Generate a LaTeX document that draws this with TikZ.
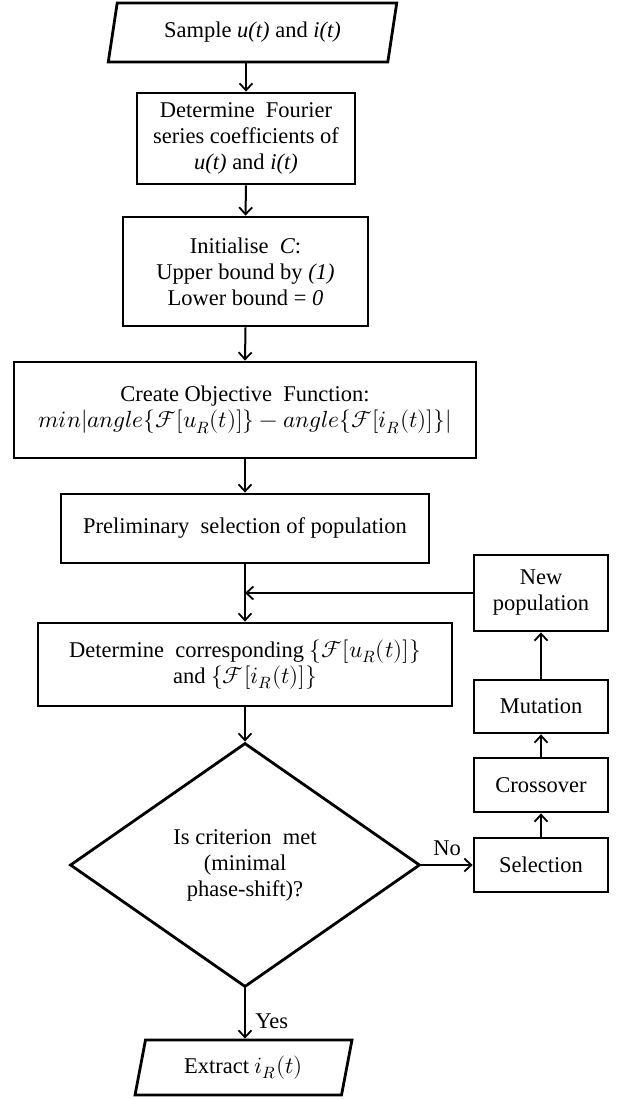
\documentclass[tikz,border=0pt]{standalone}
\usepackage{fontspec}
\usepackage{unicode-math}
\setmainfont{Liberation Serif}
\setmathfont{Latin Modern Math}[Scale=1.04]
\usetikzlibrary{arrows.meta,shapes.geometric}
\begin{document}
\begin{tikzpicture}[x=1pt,y=-1pt,
  font=\fontsize{22.5}{26}\selectfont,
  box/.style={draw, line width=2.8pt, align=center, inner sep=0pt},
  para/.style={draw, line width=2.8pt, trapezium, trapezium left angle=74,
    trapezium right angle=106, trapezium stretches=true, align=center, inner sep=0pt},
  dec/.style={draw, line width=2.8pt, diamond, align=center, inner sep=0pt},
  flow/.style={line width=2pt, -{Straight Barb[length=7pt,width=13pt,line width=1.8pt]}},
  thinflow/.style={line width=1.3pt, -{Straight Barb[length=7pt,width=13pt,line width=1.8pt]}}]
\useasboundingbox (0,0) rectangle (620,1099);

\node[para, minimum width=289pt, minimum height=59pt] (n1) at (252.5,32.5)
  {Sample \textit{u(t)} and \textit{i(t)}};
\node[box, minimum width=218pt, minimum height=91pt] (n2) at (246,138.5)
  {Determine\ \ Fourier\\series coefficients of\\\textit{u(t)} and \textit{i(t)}};
\node[box, minimum width=245pt, minimum height=109pt] (n3) at (245.5,271.5)
  {Initialise\ \ \textit{C}:\\Upper bound by \textit{(1)}\\Lower bound = \textit{0}};
\node[box, minimum width=462pt, minimum height=96pt] (n4) at (245,410)
  {Create Objective\ \ Function:\\
   $min|angle\{\mathcal{F}[u_R(t)]\}-angle\{\mathcal{F}[i_R(t)]\}|$};
\node[box, minimum width=368pt, minimum height=69pt] (n5) at (245,528.5)
  {Preliminary\ \ selection of population};
\node[box, minimum width=414pt, minimum height=83pt] (n6) at (245,664.5)
  {Determine\ \ corresponding $\{\mathcal{F}[u_R(t)]\}$\\and $\{\mathcal{F}[i_R(t)]\}$};
\node[dec, minimum width=350pt, minimum height=244pt] (dia) at (245,865)
  {Is criterion\ \ met\\(minimal\\phase-shift)?};
\node[para, trapezium left angle=75, trapezium right angle=105,
  minimum width=217pt, minimum height=55pt] (ext) at (243.5,1067.5)
  {Extract $i_R(t)$};

\node[box, minimum width=134pt, minimum height=76pt] (np) at (541,593)
  {New\\population};
\node[box, minimum width=134pt, minimum height=53pt] (mut) at (541,706.5)
  {Mutation};
\node[box, minimum width=134pt, minimum height=54pt] (cro) at (541,785)
  {Crossover};
\node[box, minimum width=134pt, minimum height=54pt] (sel) at (541,865)
  {Selection};

\draw[flow] (n2.north |- n1.south) -- (n2.north);
\draw[flow] (n2.south) -- (n3.north);
\draw[flow] (n3.south) -- (n4.north);
\draw[flow] (n4.south) -- (n5.north);
\draw[flow] (n5.south) -- (n6.north);
\draw[thinflow] (np.west) -- (np.west -| n5.south);
\draw[flow] (n6.south) -- (dia.north);
\draw[flow] (dia.east) -- node[above, yshift=5pt] {No} (sel.west);
\draw[flow] (dia.south) -- node[right, xshift=6pt, yshift=-8pt] {Yes} (dia.south |- ext.north);
\draw[flow] (sel.north) -- (cro.south);
\draw[flow] (cro.north) -- (mut.south);
\draw[flow] (mut.north) -- (np.south);
\end{tikzpicture}
\end{document}
